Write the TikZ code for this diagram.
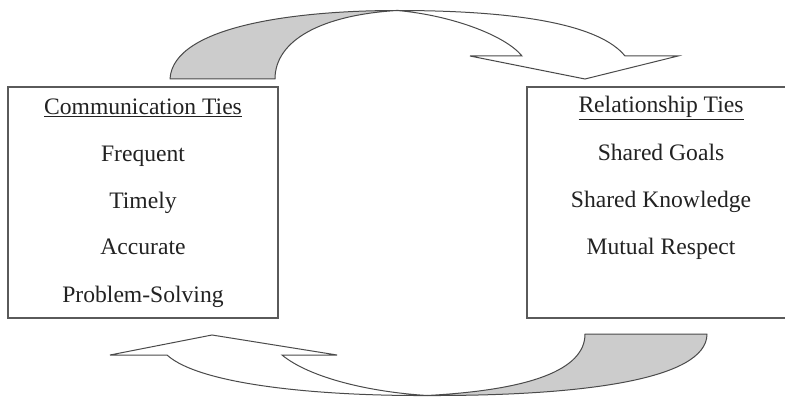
\documentclass[tikz,border=0pt]{standalone}
\usepackage{fontspec}
\setmainfont{Liberation Serif}
\definecolor{edge}{HTML}{4A4A4A}
\definecolor{boxline}{HTML}{5A5A5A}
\definecolor{ribbon}{HTML}{CCCCCC}
\definecolor{ink}{HTML}{222222}
\tikzset{
  tiebox/.style={draw=boxline, line width=1.3pt},
  ribbonback/.style={draw=edge, fill=ribbon, line width=1pt, line join=round},
  ribbonfront/.style={draw=edge, fill=white, line width=1pt, line join=miter},
  item/.style={anchor=base, text=ink, inner sep=0pt,
    font=\fontsize{23.6}{28}\selectfont},
}
\begin{document}
\begin{tikzpicture}[x=1pt,y=-1pt]
\useasboundingbox (0,0) rectangle (785,398);
\fill[white] (0,0) rectangle (785,398);

% left box
\draw[tiebox] (8,87) rectangle (278,318);
\coordinate (cl) at (143,0);
\node[item] (ch) at (143,115) {\underline{Communication Ties}};
\node[item] (c1) at (143,162) {Frequent};
\node[item] (c2) at (143,209) {Timely};
\node[item] (c3) at (143,255) {Accurate};
\node[item] (c4) at (143,302) {Problem-Solving};

% right box (runs past the right edge)
\draw[tiebox] (790,87) -- (527,87) -- (527,318) -- (790,318);
\node[item] (rh) at (661,113) {\underline{Relationship Ties}};
\node[item] (r1) at (661,161) {Shared Goals};
\node[item] (r2) at (661,208) {Shared Knowledge};
\node[item] (r3) at (661,255) {Mutual Respect};

% upper twisted ribbon arrow
\coordinate (tt) at (397,10.5);
\draw[ribbonback] (170,79) .. controls (173,25) and (300,10.5) .. (tt)
  .. controls (322,15) and (275,40) .. (275,79) -- cycle;
\draw[ribbonfront] (tt) .. controls (520,10.5) and (600,25) .. (625,56)
  -- (678,56) -- (585,79) -- (470,56) -- (522,56)
  .. controls (505,35) and (450,15) .. (tt) -- cycle;

% lower twisted ribbon arrow
\coordinate (bt) at (427,395.5);
\draw[ribbonback] (bt) .. controls (580,396) and (707,380) .. (707,334)
  -- (585,334) .. controls (585,370) and (530,390) .. (bt) -- cycle;
\draw[ribbonfront] (bt) .. controls (320,396) and (200,385) .. (167,355)
  -- (110,355) -- (212,335) -- (337,355) -- (282,355)
  .. controls (310,378) and (370,392) .. (bt) -- cycle;
\end{tikzpicture}
\end{document}
